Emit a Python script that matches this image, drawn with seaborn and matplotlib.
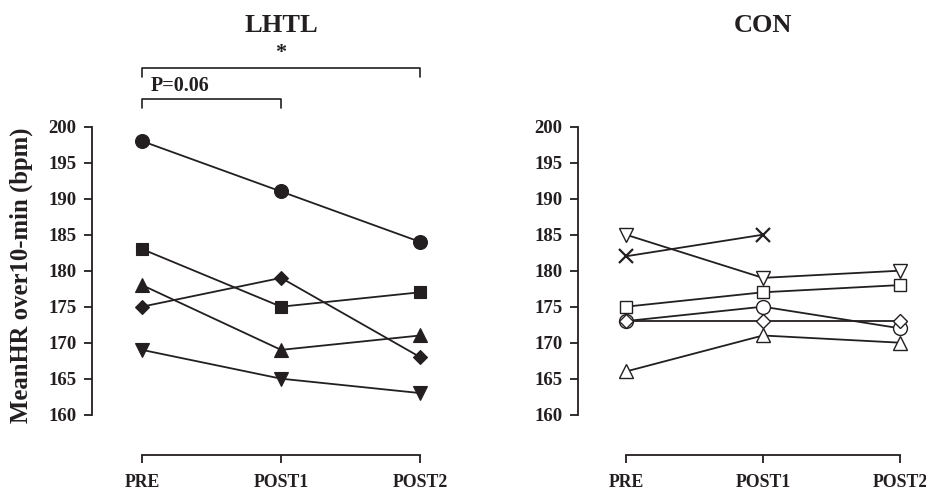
import numpy as np
import pandas as pd
import matplotlib
matplotlib.use("Agg")
import matplotlib.pyplot as plt
import seaborn as sns

# values
times = ["PRE", "POST1", "POST2"]

lhtl_circle = [198, 191, 184]
lhtl_square = [183, 175, 177]
lhtl_tri_up = [178, 169, 171]
lhtl_diamond = [175, 179, 168]
lhtl_tri_down = [169, 165, 163]

con_tri_down = [185, 179, 180]
con_cross = [182, 185, np.nan]
con_square = [175, 177, 178]
con_circle = [173, 175, 172]
con_diamond = [173, 173, 173]
con_tri_up = [166, 171, 170]

ink = "#231f20"

sns.set_style("ticks")
plt.rcParams["font.family"] = ["Liberation Serif", "DejaVu Serif"]
plt.rcParams["font.weight"] = "bold"


def long_table(series):
    rows = []
    for name, vals in series.items():
        for i, v in enumerate(vals):
            rows.append({"subject": name, "time": i, "hr": v})
    return pd.DataFrame(rows)


lhtl = long_table({"circle": lhtl_circle, "square": lhtl_square,
                   "tri_up": lhtl_tri_up, "diamond": lhtl_diamond,
                   "tri_down": lhtl_tri_down})
con = long_table({"tri_down": con_tri_down, "cross": con_cross,
                  "square": con_square, "circle": con_circle,
                  "diamond": con_diamond, "tri_up": con_tri_up})

marker_map = {"circle": "o", "square": "s", "tri_up": "^",
              "diamond": "D", "tri_down": "v", "cross": "x"}
size_map = {"o": 10, "s": 9, "^": 10, "D": 7, "v": 10, "x": 10}

fig = plt.figure(figsize=(9.26, 4.9), dpi=100)
ax1 = fig.add_axes([92 / 926, 35 / 490, 342 / 926, 335.5 / 490])
ax2 = fig.add_axes([578 / 926, 35 / 490, 335.6 / 926, 335.5 / 490])

for ax, df, filled, xlo in [(ax1, lhtl, True, -0.36), (ax2, con, False, -0.35)]:
    kws = dict(mfc=ink, mec=ink, mew=0.8) if filled else dict(mfc="white", mec=ink, mew=1.0)
    # line-art marker ('x') can't share a style mapping with filled ones
    for part in [df[df["subject"] != "cross"], df[df["subject"] == "cross"]]:
        if part.empty:
            continue
        sns.lineplot(data=part, x="time", y="hr", style="subject",
                     markers={k: marker_map[k] for k in part["subject"].unique()},
                     dashes=False, color=ink, lw=1.3, estimator=None,
                     legend=False, ax=ax, **kws)
    for line in ax.lines:
        line.set_markersize(size_map[line.get_marker()])
        if line.get_marker() == "x":
            line.set_markeredgewidth(1.6)
        line.set_clip_on(False)

    ax.set_xlim(xlo, 2.1)
    ax.set_ylim(154.4, 201)
    ax.set_xticks([0, 1, 2])
    ax.set_xticklabels(times, fontsize=12.8, fontweight="bold")
    ax.set_yticks(range(160, 201, 5))
    ax.set_yticklabels([str(v) for v in range(160, 201, 5)],
                       fontsize=13.5, fontweight="bold")
    ax.tick_params(axis="y", direction="out", length=6, width=1.3, pad=5, colors=ink)
    ax.tick_params(axis="x", direction="out", length=6, width=1.3, pad=8, colors=ink)
    for s in ["top", "right"]:
        ax.spines[s].set_visible(False)
    ax.spines["left"].set_bounds(160, 200)
    ax.spines["bottom"].set_bounds(0, 2)
    for s in ["left", "bottom"]:
        ax.spines[s].set_linewidth(1.3)
        ax.spines[s].set_color(ink)
    ax.set_xlabel("")
    ax.set_ylabel("")

ax1.text(1, 214.0, "LHTL", ha="center", va="center", fontsize=19,
         fontweight="bold", color=ink, clip_on=False)
ax2.text(1, 214.0, "CON", ha="center", va="center", fontsize=19,
         fontweight="bold", color=ink, clip_on=False)

# significance brackets
ax1.plot([0, 0, 2, 2], [206.9, 208.2, 208.2, 206.9], color=ink, lw=1.2, clip_on=False)
ax1.text(1, 210.2, "*", ha="center", va="center", fontsize=16,
         fontweight="bold", color=ink, clip_on=False)
ax1.plot([0, 0, 1, 1], [202.6, 203.9, 203.9, 202.6], color=ink, lw=1.2, clip_on=False)
ax1.text(0.06, 204.3, "P=0.06", ha="left", va="bottom", fontsize=14.5,
         fontweight="bold", color=ink, clip_on=False)

fig.text(0.023, 0.439, "MeanHR over10-min (bpm)", rotation=90, ha="center",
         va="center", fontsize=17.8, fontweight="bold", color=ink)

fig.savefig("out.png", dpi=100)
